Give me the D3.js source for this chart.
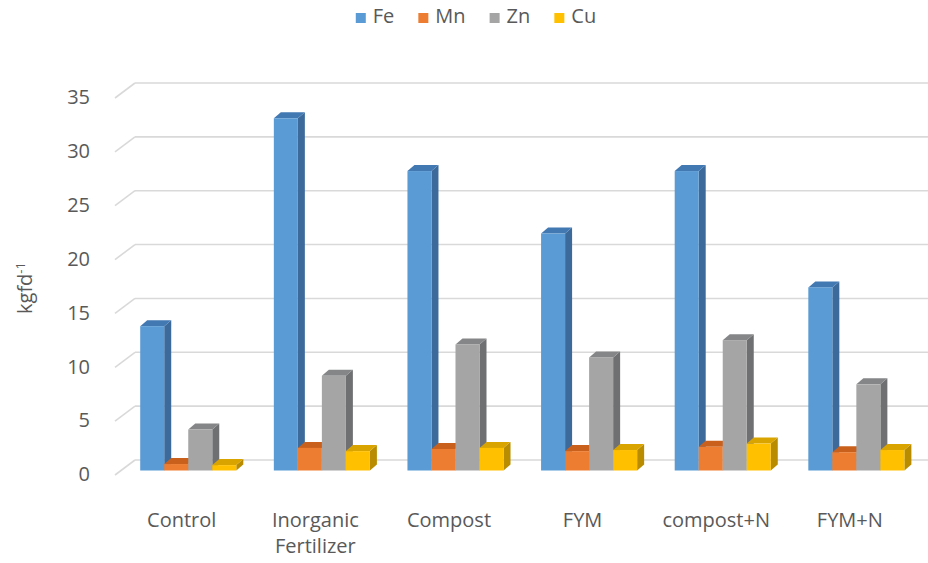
<!DOCTYPE html>
<html>
<head>
<meta charset="utf-8">
<script src="https://cdn.jsdelivr.net/npm/d3@7"></script>
<style>
  html, body { margin: 0; padding: 0; background: #ffffff; }
  svg { display: block; }
  text { font-family: "Open Sans", "DejaVu Sans", sans-serif; fill: #595959; }
</style>
</head>
<body>
<svg id="chart" width="928" height="563"></svg>
<script>
// Treatments (x categories)
const categories = ["Control", "Inorganic Fertilizer", "Compost", "FYM", "compost+N", "FYM+N"];
// Micronutrient series
const seriesNames = ["Fe", "Mn", "Zn", "Cu"];
const feValues = [13.4, 32.7, 27.8, 22.0, 27.8, 17.0];
const mnValues = [0.6, 2.1, 2.0, 1.8, 2.2, 1.7];
const znValues = [3.8, 8.8, 11.7, 10.5, 12.1, 8.0];
const cuValues = [0.5, 1.8, 2.1, 1.9, 2.5, 1.9];
// Value axis ticks
const yTicks = [0, 5, 10, 15, 20, 25, 30, 35];
const yTitle = "kgfd";
const yTitleSup = "-1";

const seriesValues = { Fe: feValues, Mn: mnValues, Zn: znValues, Cu: cuValues };

// front / top / side shades for each series
const shades = {
  Fe: { front: "#5b9bd5", top: "#4279b3", side: "#3b6a9b" },
  Mn: { front: "#ed7d31", top: "#c9601c", side: "#b85a20" },
  Zn: { front: "#a5a5a5", top: "#858688", side: "#6e7072" },
  Cu: { front: "#ffc000", top: "#d9a300", side: "#b98c00" }
};

const svg = d3.select("#chart");

// floor geometry: oblique projection of the 3D plot
const floorLeft = 115;
const floorDX = 20, floorDY = -15;   // full floor depth
const barDX = 7, barDY = -6;         // bar depth
const barOffX = (floorDX - barDX) / 2, barOffY = (floorDY - barDY) / 2;

const y = d3.scaleLinear().domain([0, 35]).range([475, 98]);

const x0 = d3.scaleBand()
  .domain(categories)
  .range([floorLeft, floorLeft + 6 * 133.6])
  .paddingInner(0.281)
  .paddingOuter(0.14);

const x1 = d3.scaleBand()
  .domain(seriesNames)
  .range([0, x0.bandwidth()])
  .padding(0);

// back-wall gridlines with their diagonal floor-side ticks
const grid = svg.append("g").attr("class", "grid");
yTicks.forEach(v => {
  grid.append("line")
    .attr("x1", floorLeft + floorDX).attr("x2", 928)
    .attr("y1", y(v) + floorDY).attr("y2", y(v) + floorDY)
    .attr("stroke", "#d9d9d9").attr("stroke-width", 1.6);
  grid.append("line")
    .attr("x1", floorLeft).attr("x2", floorLeft + floorDX)
    .attr("y1", y(v)).attr("y2", y(v) + floorDY)
    .attr("stroke", "#d9d9d9").attr("stroke-width", 1.6);
});

// value axis labels
svg.append("g").selectAll("text")
  .data(yTicks)
  .join("text")
  .attr("x", 90)
  .attr("y", v => y(v) + 1)
  .attr("text-anchor", "end")
  .attr("dominant-baseline", "middle")
  .style("font-size", "20px")
  .text(d => d);

// axis title
const title = svg.append("text")
  .attr("transform", "translate(32,288) rotate(-90)")
  .attr("text-anchor", "middle")
  .style("font-size", "20px");
title.append("tspan").text(yTitle);
title.append("tspan").attr("dy", -7).style("font-size", "13px").text(yTitleSup);

// 3D bars, drawn left to right so nearer faces overlap correctly
const bars = svg.append("g").attr("class", "bars");
categories.forEach((cat, ci) => {
  seriesNames.forEach(s => {
    const v = seriesValues[s][ci];
    const xl = x0(cat) + x1(s) + barOffX;
    const xr = xl + x1.bandwidth();
    const yb = y(0) + barOffY;
    const yt = y(v) + barOffY;
    const g = bars.append("g");
    g.append("polygon")
      .attr("points", [[xr, yt], [xr + barDX, yt + barDY], [xr + barDX, yb + barDY], [xr, yb]].join(" "))
      .attr("fill", shades[s].side);
    g.append("polygon")
      .attr("points", [[xl, yt], [xr, yt], [xr + barDX, yt + barDY], [xl + barDX, yt + barDY]].join(" "))
      .attr("fill", shades[s].top);
    g.append("rect")
      .attr("x", xl).attr("y", yt)
      .attr("width", xr - xl).attr("height", yb - yt)
      .attr("fill", shades[s].front);
  });
});

// category labels (wrapped onto two lines where needed)
const catLabels = svg.append("g").selectAll("text")
  .data(categories)
  .join("text")
  .attr("x", d => x0(d) + x0.bandwidth() / 2)
  .attr("y", 527)
  .attr("text-anchor", "middle")
  .style("font-size", "20px");
catLabels.each(function(d) {
  const words = d === "Inorganic Fertilizer" ? ["Inorganic", "Fertilizer"] : [d];
  const t = d3.select(this);
  words.forEach((w, i) => {
    t.append("tspan")
      .attr("x", x0(d) + x0.bandwidth() / 2)
      .attr("dy", i === 0 ? 0 : 26)
      .text(w);
  });
});

// legend, centred across the top
const legend = svg.append("g").attr("class", "legend");
const items = legend.selectAll("g")
  .data(seriesNames)
  .join("g");
items.append("rect")
  .attr("width", 10).attr("height", 10)
  .attr("y", 13)
  .attr("fill", d => shades[d].front);
items.append("text")
  .attr("x", 17).attr("y", 18)
  .attr("dominant-baseline", "middle")
  .style("font-size", "20px")
  .text(d => d);
const widths = [];
items.each(function() {
  widths.push(d3.select(this).select("text").node().getComputedTextLength());
});
const gap = 24;
const total = widths.reduce((a, w) => a + 17 + w, 0) + gap * (widths.length - 1);
let cursor = 476 - total / 2;
items.each(function(d, i) {
  d3.select(this).attr("transform", `translate(${cursor},0)`);
  cursor += 17 + widths[i] + gap;
});
</script>
</body>
</html>
